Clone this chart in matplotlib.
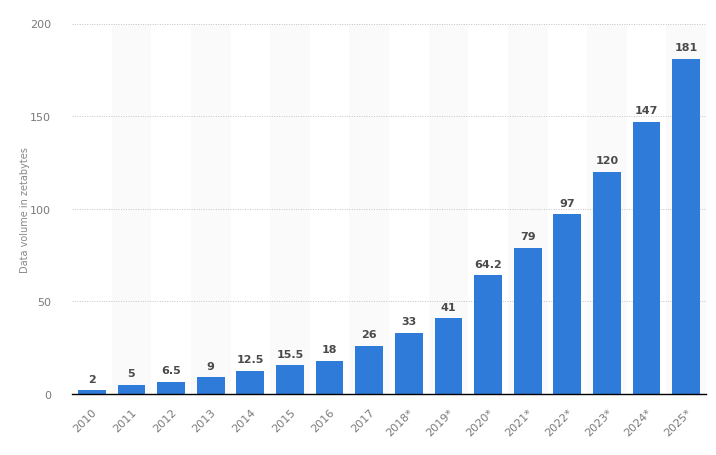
import matplotlib
matplotlib.use("Agg")
import matplotlib.pyplot as plt

categories = ["2010", "2011", "2012", "2013", "2014", "2015", "2016", "2017",
              "2018*", "2019*", "2020*", "2021*", "2022*", "2023*", "2024*", "2025*"]
values = [2, 5, 6.5, 9, 12.5, 15.5, 18, 26, 33, 41, 64.2, 79, 97, 120, 147, 181]
labels = ["2", "5", "6.5", "9", "12.5", "15.5", "18", "26", "33", "41", "64.2",
          "79", "97", "120", "147", "181"]
yticks = [0, 50, 100, 150, 200]

plt.rcParams['font.family'] = ['DejaVu Sans']
fig = plt.figure(figsize=(7.16, 4.56), dpi=100)
ax = fig.add_axes([72/716, 1-395/456, (706-72)/716, (395-24.5)/456])

x = list(range(len(categories)))
for i in x:
    if i % 2 == 1:
        ax.axvspan(i-0.5, i+0.5, color="#fafafa", zorder=0, lw=0)

bars = ax.bar(x, values, width=0.7, color="#2f7bd9", zorder=3)
for xi, v, lab in zip(x, values, labels):
    ax.text(xi, v + 3.5, lab, ha="center", va="bottom", fontsize=8,
            fontweight="bold", color="#4a4a4a", zorder=4)

ax.set_xlim(-0.5, len(categories)-0.5)
ax.set_ylim(0, 200)
ax.set_yticks(yticks)
ax.set_yticklabels([str(t) for t in yticks])
for t in yticks[1:]:
    ax.axhline(t, color="#c4c4c4", lw=0.7, ls=(0, (1, 1.5)), zorder=1)

ax.set_xticks(x)
ax.set_xticklabels(categories, rotation=45, ha="right", rotation_mode="anchor")
ax.tick_params(axis="both", length=0, colors="#7a7a7a", labelsize=8)
ax.tick_params(axis="x", pad=9)
ax.tick_params(axis="y", pad=15)
for s in ["top", "right", "left"]:
    ax.spines[s].set_visible(False)
ax.spines["bottom"].set_color("#000000")
ax.spines["bottom"].set_linewidth(1.0)
ax.spines["bottom"].set_zorder(5)

ax.set_ylabel("Data volume in zetabytes", fontsize=7, color="#888888")
ax.yaxis.set_label_coords(-(72-30)/(706-72), 0.5)

fig.savefig("out.png", dpi=100)
